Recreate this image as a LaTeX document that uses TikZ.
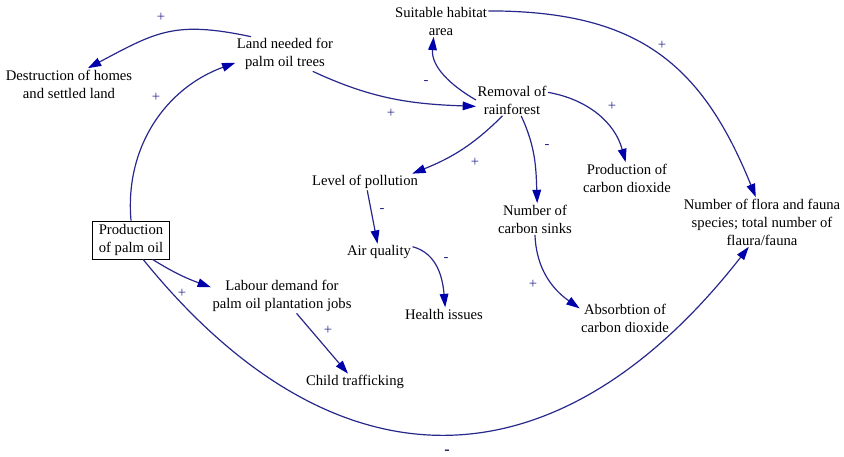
\documentclass[tikz,border=0pt]{standalone}
\usepackage{fontspec}
\setmainfont{Liberation Serif}
\usepackage{xcolor}
\usetikzlibrary{arrows.meta}
\definecolor{linkblue}{RGB}{40,40,140}
\definecolor{tipblue}{RGB}{0,0,170}
\definecolor{signnavy}{RGB}{20,20,90}

\begin{document}
\begin{tikzpicture}[x=0.75pt,y=0.75pt,
  var/.style={align=center,inner sep=1pt,font=\fontsize{11}{13.5}\selectfont},
  stock/.style={var,draw,line width=0.7pt,inner xsep=4.5pt,inner ysep=2.5pt},
  link/.style={draw=linkblue,line width=0.9pt,-{Triangle[length=10pt,width=6.5pt,color=tipblue]}},
  sign/.style={text=linkblue,inner sep=0pt,font=\fontsize{11}{11}\selectfont}]

\useasboundingbox (0,0) rectangle (844,-457);

%variables
\node[var] (habitat) at (441,-21) {Suitable habitat\\area};
\node[var] (land) at (285,-54) {Land needed for\\palm oil trees};
\node[var] (homes) at (69,-84) {Destruction of homes\\and settled land};
\node[var] (removal) at (512,-100) {Removal of\\rainforest};
\node[var] (pollution) at (365,-182) {Level of pollution};
\node[var] (air) at (379,-252) {Air quality};
\node[stock] (palmoil) at (131,-240) {Production\\of palm oil};
\node[var] (labour) at (282,-296) {Labour demand for\\palm oil plantation jobs};
\node[var] (child) at (355,-382) {Child trafficking};
\node[var] (health) at (444,-314) {Health issues};
\node[var] (sinks) at (535,-219) {Number of\\carbon sinks};
\node[var] (co2) at (627,-178) {Production of\\carbon dioxide};
\node[var] (absorb) at (625,-318) {Absorbtion of\\carbon dioxide};
\node[var] (species) at (762,-222) {Number of flora and fauna\\species; total number of\\flaura/fauna};

%causal links
\draw[link] (land.153) to[out=168,in=28,looseness=1.2] (homes.40);
\draw[link] (palmoil.north) to[out=95,in=200] (land.190);
\draw[link] (land.-32) to[out=-25,in=178] (removal.190);
\draw[link] (removal.west) to[out=150,in=265] (habitat.245);
\draw[link] (habitat.12) to[out=0,in=112,looseness=1.15] (species.104);
\draw[link] (removal.12) to[out=-10,in=105] (co2.95);
\draw[link] (removal.239) to[out=225,in=22] (pollution.10);
\draw[link] (removal.-60) to[out=-65,in=92] (sinks.82);
\draw[link] (pollution.-75) -- (air.100);
\draw[link] (air.9) to[out=-15,in=95] (health.80);
\draw[link] (sinks.south) to[out=-88,in=145] (absorb.168);
\draw[link] (palmoil.-42) to[out=-32,in=160] (labour.173);
\draw[link] (labour.-50) -- (child.130);
\draw[link] (palmoil.-58) to[out=-51,in=232,looseness=1.3] (species.242);

%polarities
\node[sign] (s1) at (161,-17) {+};
\node[sign] (s2) at (156,-97) {+};
\node[sign] (s3) at (391,-113) {+};
\node[sign] (s4) at (426,-82) {-};
\node[sign] (s5) at (662,-45) {+};
\node[sign] (s6) at (612,-106) {+};
\node[sign] (s7) at (475,-162) {+};
\node[sign] (s8) at (547,-146) {-};
\node[sign] (s9) at (382,-210) {-};
\node[sign] (s10) at (446,-259) {-};
\node[sign] (s11) at (533,-284) {+};
\node[sign] (s12) at (182,-293) {+};
\node[sign] (s13) at (328,-330) {+};
\node[sign,text=signnavy,font=\fontsize{12}{12}\bfseries] (s14) at (447,-452) {-};

\end{tikzpicture}
\end{document}
